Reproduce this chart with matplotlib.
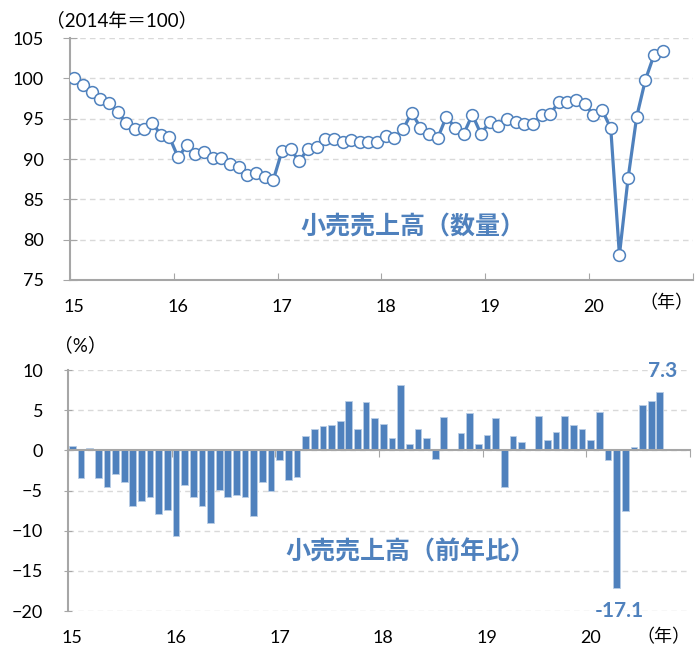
import numpy as np
import matplotlib
matplotlib.use('Agg')
import matplotlib.pyplot as plt

plt.rcParams['font.family'] = ['Lato', 'Noto Sans CJK JP', 'DejaVu Sans']

BLUE = '#4f81bd'
GRID = '#d9d9d9'
AXIS = '#a6a6a6'

# monthly data, Jan 2015 - Sep 2020
volume = [100.0, 99.2, 98.3, 97.4, 96.9, 95.8, 94.5, 93.7, 93.7, 94.5, 93.0, 92.7,
          90.2, 91.7, 90.6, 90.9, 90.1, 90.1, 89.4, 89.0, 88.0, 88.3, 87.8, 87.4,
          91.0, 91.2, 89.7, 91.3, 91.5, 92.5, 92.5, 92.1, 92.3, 92.1, 92.1, 92.1,
          92.8, 92.6, 93.7, 95.75, 93.9, 93.1, 92.6, 95.25, 93.9, 93.1, 95.5, 93.1,
          94.6, 94.1, 94.9, 94.6, 94.4, 94.4, 95.4, 95.6, 97.05, 97.1, 97.3, 96.8,
          95.5, 96.1, 93.8, 78.1, 87.6, 95.25, 99.8, 102.9, 103.4]

yoy = [0.5, -3.4, 0.3, -3.4, -4.6, -2.9, -4.0, -6.9, -6.3, -5.8, -7.9, -7.4,
       -10.7, -4.3, -5.8, -6.9, -9.1, -4.9, -5.8, -5.6, -5.8, -8.2, -3.9, -5.0,
       -1.2, -3.7, -3.3, 1.75, 2.7, 3.0, 3.1, 3.7, 6.2, 2.7, 6.0, 4.0,
       3.25, 1.5, 8.1, 0.75, 2.7, 1.6, -1.1, 4.1, 0.2, 2.1, 4.6, 0.75,
       1.9, 4.0, -4.5, 1.75, 1.05, 0.2, 4.25, 1.3, 2.25, 4.25, 3.1, 2.7,
       1.3, 4.75, -1.25, -17.1, -7.6, 0.4, 5.6, 6.2, 7.3]

year_labels = ['15', '16', '17', '18', '19', '20']

months = np.arange(len(volume))
label_pos = [12 * k for k in range(len(year_labels))]
bound_pos = [12 * k - 0.5 for k in range(len(year_labels) + 1)]

fig = plt.figure(figsize=(6.97, 6.51), dpi=100)

# ---- top panel: volume index
ax1 = fig.add_axes([0.1004, 0.5699, 0.8938, 0.3717])
ax1.plot(months, volume, color=BLUE, lw=2.3, marker='o', ms=8.5,
         mfc='white', mec=BLUE, mew=1.1, zorder=3)
ax1.set_xlim(-0.5, 71.5)
ax1.set_ylim(75, 105)
ax1.set_yticks(range(75, 106, 5))
ax1.yaxis.grid(True, ls=(0, (4, 3)), color=GRID, lw=1)
ax1.set_axisbelow(True)
ax1.set_xticks(bound_pos)
ax1.set_xticklabels([])
ax1.tick_params(axis='x', direction='in', length=5, color=AXIS)
ax1.set_xticks(label_pos, minor=True)
ax1.set_xticklabels(year_labels, minor=True)
ax1.tick_params(axis='x', which='minor', length=0, pad=14, labelsize=13)
ax1.tick_params(axis='y', direction='inout', length=10, color=AXIS, pad=14, labelsize=13)
for s in ['top', 'right']:
    ax1.spines[s].set_visible(False)
for s in ['left', 'bottom']:
    ax1.spines[s].set_color(AXIS)
    ax1.spines[s].set_linewidth(1.5)
ax1.text(0.55, 0.223, '小売売上高（数量）', transform=ax1.transAxes, ha='center',
         va='center', fontsize=18, fontweight='bold', color=BLUE)
ax1.text(1.0, -0.095, '（年）', transform=ax1.transAxes, ha='right', va='center', fontsize=13)
fig.text(0.066, 0.969, '（2014年＝100）', ha='left', va='center', fontsize=13.5)

# ---- bottom panel: year-on-year change
ax2 = fig.add_axes([0.0976, 0.0614, 0.8924, 0.3702])
ax2.bar(months, yoy, width=0.78, color=BLUE, edgecolor='#b9cde5', lw=0.6, zorder=3)
ax2.set_xlim(-0.5, 71.5)
ax2.set_ylim(-20, 10)
ax2.set_yticks(range(-20, 11, 5))
ax2.yaxis.grid(True, ls=(0, (4, 3)), color=GRID, lw=1)
ax2.set_axisbelow(True)
ax2.spines['bottom'].set_position(('data', 0))
ax2.spines['bottom'].set_color(AXIS)
ax2.spines['bottom'].set_linewidth(1.5)
ax2.spines['bottom'].set_zorder(4)
ax2.spines['left'].set_color(AXIS)
ax2.spines['left'].set_linewidth(1.5)
for s in ['top', 'right']:
    ax2.spines[s].set_visible(False)
ax2.set_xticks(bound_pos)
ax2.set_xticklabels([])
ax2.tick_params(axis='x', direction='out', length=5, color=AXIS)
ax2.tick_params(axis='y', direction='inout', length=6, color=AXIS, pad=15, labelsize=13)
sec = ax2.secondary_xaxis(0.0)
sec.set_xticks(label_pos)
sec.set_xticklabels(year_labels)
sec.tick_params(length=0, pad=14, labelsize=13)
sec.spines['bottom'].set_visible(False)

ax2.annotate(f'{yoy[-1]:.1f}', (months[-1], yoy[-1]), xytext=(2, 15),
             textcoords='offset points', ha='center', va='center',
             fontsize=15, fontweight='bold', color=BLUE)
imin = int(np.argmin(yoy))
ax2.annotate(f'{yoy[imin]:.1f}', (months[imin], yoy[imin]), xytext=(2, -17),
             textcoords='offset points', ha='center', va='center',
             fontsize=15, fontweight='bold', color=BLUE)
ax2.text(0.55, 0.249, '小売売上高（前年比）', transform=ax2.transAxes, ha='center',
         va='center', fontsize=18, fontweight='bold', color=BLUE)
ax2.text(1.0, -0.108, '（年）', transform=ax2.transAxes, ha='right', va='center', fontsize=13)
fig.text(0.078, 0.47, '（%）', ha='left', va='center', fontsize=13.5)

fig.savefig('out.png', dpi=100)
